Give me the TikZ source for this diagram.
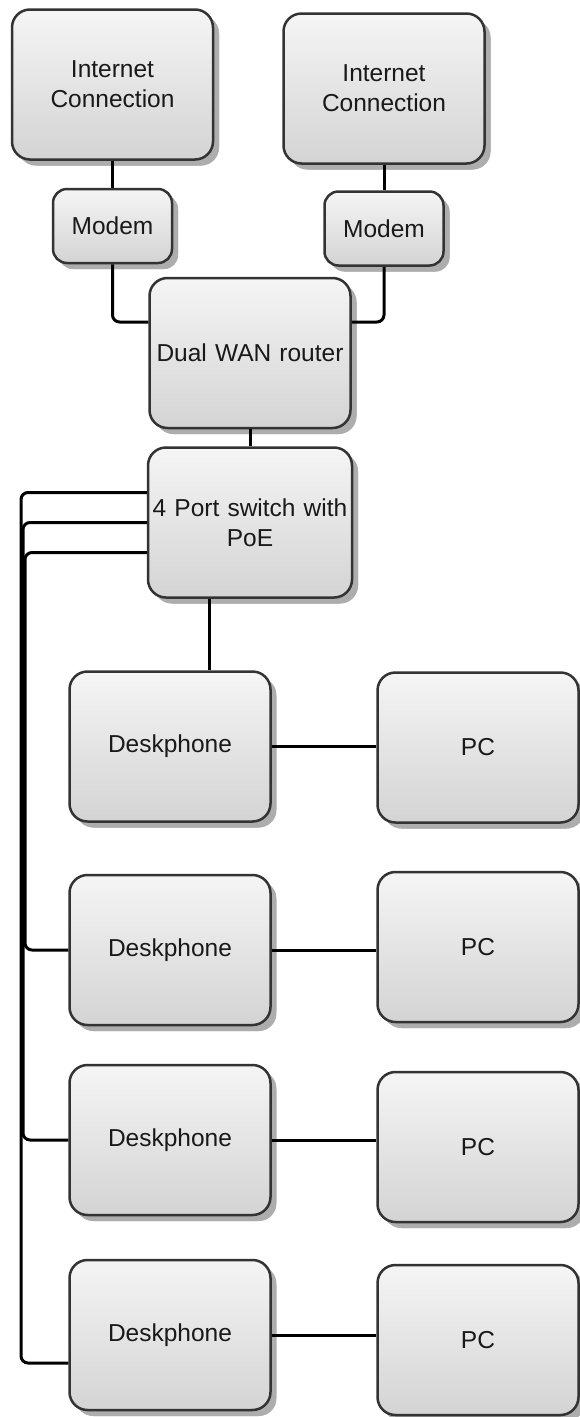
\documentclass[tikz,border=0pt]{standalone}
\usepackage{fontspec}
\setmainfont{Liberation Sans}
\usetikzlibrary{shadows}

\begin{document}
\begin{tikzpicture}[x=1pt, y=-1pt,
    device/.style={draw=black!80, line width=2.5pt, rounded corners=18pt,
      top color=black!4, bottom color=black!17,
      drop shadow={shadow xshift=6pt, shadow yshift=-6pt, draw=none,
        top color=black!32, bottom color=black!32, fill=black!32, opacity=1},
      minimum width=201pt, minimum height=150pt, text width=200pt, align=center,
      inner sep=0pt, text=black!90, font=\fontsize{24.5}{30}\selectfont},
    modembox/.style={device, rounded corners=14pt, minimum width=119pt,
      minimum height=74pt, text width=110pt},
    wire/.style={line width=3pt, rounded corners=7pt}]
  \useasboundingbox (0,0) rectangle (580,1417);

  % Draw internet connections and modems
  \node[device] (inet1) at (112.5, 84.5) {Internet\\Connection};
  \node[device] (inet2) at (384, 88.5) {Internet\\Connection};
  \node[modembox] (modem1) at (112.5, 226) {Modem};
  \node[modembox] (modem2) at (384, 228.5) {Modem};

  % Draw router and switch
  \node[device] (router) at (250, 353) {Dual WAN router};
  \node[device, minimum width=204pt] (sw) at (250, 522.5) {4 Port switch with\\PoE};

  % Draw deskphones and PCs
  \foreach \i/\y/\py in {1/746.5/747.5, 2/950/947, 3/1140/1147, 4/1335/1340} {
    \node[device] (dp\i) at (170, \y) {Deskphone};
    \node[device] (pc\i) at (478, \py) {PC};
    \draw[wire] (dp\i.east) -- (dp\i.east -| pc\i.west);
  }

  % Draw the uplinks
  \draw[wire] (inet1) -- (modem1);
  \draw[wire] (inet2) -- (modem2);
  \draw[wire] (modem1.south) |- ([yshift=31pt]router.west);
  \draw[wire] (modem2.south) |- ([yshift=31pt]router.east);
  \draw[wire] (router) -- (sw);

  % Draw switch ports to the deskphones
  \coordinate (drop) at (209, 0);
  \coordinate (bus1) at (21, 0);
  \coordinate (bus2) at (23, 0);
  \coordinate (bus3) at (25, 0);
  \draw[wire] (sw.south -| drop) -- (dp1.north -| drop);
  \draw[wire] ([yshift=30pt]sw.west) -| ([yshift=-28pt]dp4.west -| bus1) -- ([yshift=-28pt]dp4.west);
  \draw[wire] (sw.west) -| (dp3.west -| bus2) -- (dp3.west);
  \draw[wire] ([yshift=-30pt]sw.west) -| (dp2.west -| bus3) -- (dp2.west);
\end{tikzpicture}
\end{document}
